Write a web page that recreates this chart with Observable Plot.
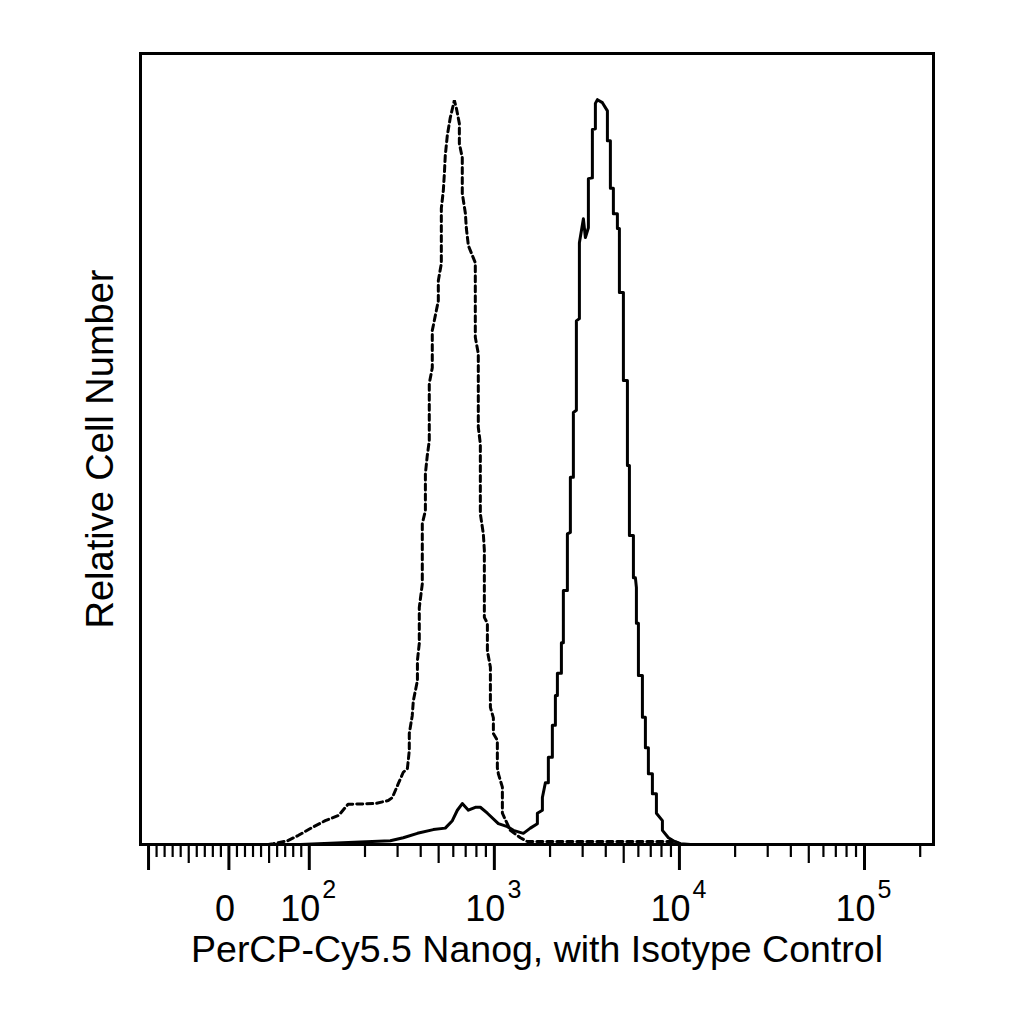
<!DOCTYPE html>
<html>
<head>
<meta charset="utf-8">
<script src="https://cdn.jsdelivr.net/npm/d3@7"></script>
<script src="https://cdn.jsdelivr.net/npm/@observablehq/plot@0.6"></script>
<style>
  html, body { margin: 0; padding: 0; background: #fff; }
  #chart svg { display: block; }
</style>
</head>
<body>
<div id="chart"></div>
<script>
// Isotype control (dashed) histogram: fluorescence intensity and relative count
const isotypeIntensity = [49, 55, 73, 86, 104, 122, 144, 162, 227, 267, 281, 303, 322, 339, 347, 347, 360, 365, 384, 384, 393, 393, 408, 408, 424, 424, 434, 445, 445, 462, 462, 498, 498, 517, 517, 530, 537, 543, 557, 578, 608, 623, 647, 647, 671, 671, 697, 706, 724, 789, 789, 819, 819, 840, 840, 872, 883, 883, 917, 917, 952, 952, 988, 988, 1038, 1038, 1051, 1105, 1105, 1220, 1382, 1508, 1773, 3741, 9515, 10130];
const isotypeCount = [0, 0.1, 0.5, 1.2, 2.3, 3.2, 3.9, 5.4, 5.5, 5.9, 6.3, 8.2, 9.7, 10.2, 12.6, 14.9, 17.3, 19.3, 22.0, 24.7, 27.0, 31.8, 35.0, 43.1, 44.8, 49.8, 52.2, 54.2, 61.9, 64.0, 69.0, 73.0, 75.7, 78.0, 85.4, 87.8, 90.1, 92.5, 95.2, 97.6, 99.9, 98.9, 96.8, 94.1, 92.2, 87.4, 84.8, 82.7, 80.4, 78.1, 68.1, 65.9, 56.0, 53.8, 44.4, 41.7, 39.5, 30.5, 29.7, 26.0, 23.8, 18.4, 17.0, 14.9, 14.0, 10.3, 9.5, 7.7, 4.2, 1.9, 0.9, 0.4, 0.4, 0.4, 0.4, 0];

// Nanog (solid) histogram
const nanogIntensity = [89, 274, 322, 384, 468, 543, 593, 631, 671, 724, 789, 840, 917, 1051, 1176, 1267, 1435, 1565, 1708, 1708, 1818, 1818, 1887, 1958, 1958, 2058, 2058, 2137, 2137, 2191, 2191, 2303, 2303, 2360, 2360, 2481, 2481, 2575, 2575, 2673, 2673, 2775, 2775, 2881, 2881, 3028, 3104, 3222, 3222, 3386, 3386, 3515, 3515, 3605, 3836, 4082, 4082, 4236, 4236, 4397, 4397, 4622, 4622, 4739, 4739, 4981, 4981, 5236, 5236, 5368, 5368, 5642, 5642, 5784, 5856, 5856, 6004, 6004, 6310, 6310, 6549, 6549, 6797, 6797, 7145, 7145, 7511, 7511, 8093, 8093, 8720, 9281, 10130, 11470];
const nanogCount = [0, 0.5, 0.9, 1.5, 2.0, 2.2, 3.2, 4.6, 5.5, 4.6, 5.0, 5.0, 4.2, 2.8, 2.4, 1.9, 1.5, 2.2, 2.8, 4.2, 4.6, 6.3, 8.3, 8.3, 11.7, 11.7, 16.0, 16.0, 20.0, 20.0, 23.0, 23.0, 27.1, 27.1, 34.1, 34.1, 41.7, 41.9, 49.3, 49.3, 58.0, 58.3, 70.3, 70.6, 80.8, 84.0, 81.5, 82.8, 89.4, 89.5, 96.0, 96.1, 99.5, 100, 99.6, 98.5, 94.5, 94.5, 88.1, 88.1, 84.7, 84.7, 82.7, 82.7, 74.1, 74.1, 62.3, 62.3, 50.9, 50.9, 41.5, 41.5, 35.8, 35.8, 34.5, 29.7, 29.7, 22.7, 22.7, 17.1, 17.1, 13.0, 13.0, 9.5, 9.5, 6.8, 6.8, 4.2, 3.2, 1.9, 0.9, 0.5, 0.1, 0];

// Axis ticks and labels
const xDomainValues = [-110, 236000];
const majorTicks = [-100, 0, 100, 1000, 10000, 100000];
const mediumTicks = [-50, 50, 500, 5000, 50000];
const minorTicks = [-90, -80, -70, -60, -40, -30, -20, -10, 10, 20, 30, 40, 60, 70, 80, 90, 200, 300, 400, 600, 700, 800, 900, 2000, 3000, 4000, 6000, 7000, 8000, 9000, 20000, 30000, 40000, 60000, 70000, 80000, 90000, 200000];
const zeroTick = [0];
const zeroLabel = ["0"];
const decadeTicks = [100, 1000, 10000, 100000];
const decadeBase = ["10", "10", "10", "10"];
const decadeExponents = ["2", "3", "4", "5"];
const xLabel = "PerCP-Cy5.5 Nanog, with Isotype Control";
const yLabel = "Relative Cell Number";
const yMax = 106.2;

// Linear-near-zero / logarithmic-above display transform (biexponential-like)
const LN10 = Math.log(10);
function biex(v) {
  return v >= 100 ? Math.log10(v) : 2 + (v - 100) / (100 * LN10);
}

const isotype = isotypeIntensity.map((v, i) => ({v, c: isotypeCount[i]}));
const nanog = nanogIntensity.map((v, i) => ({v, c: nanogCount[i]}));

const font = "'Liberation Sans', Arial, Helvetica, sans-serif";

const chart = Plot.plot({
  width: 1024,
  height: 1024,
  marginLeft: 140,
  marginRight: 91,
  marginTop: 53,
  marginBottom: 180,
  style: {fontFamily: font, background: "white", color: "black", overflow: "visible"},
  x: {type: "linear", domain: xDomainValues.map(biex), axis: null},
  y: {domain: [0, yMax], axis: null},
  marks: [
    Plot.line(isotype, {x: d => biex(d.v), y: "c", stroke: "black", strokeWidth: 3, strokeDasharray: "6,4", strokeLinejoin: "miter"}),
    Plot.line(nanog, {x: d => biex(d.v), y: "c", stroke: "black", strokeWidth: 3}),
    Plot.axisX(minorTicks.map(biex), {anchor: "bottom", tickSize: 13, strokeWidth: 2.2, fill: "none", label: null}),
    Plot.axisX(mediumTicks.map(biex), {anchor: "bottom", tickSize: 19, strokeWidth: 2.2, fill: "none", label: null}),
    Plot.axisX(majorTicks.map(biex), {anchor: "bottom", tickSize: 26, strokeWidth: 3, fill: "none", label: null}),
    Plot.frame({stroke: "black", strokeWidth: 3}),
    Plot.text(zeroTick, {x: d => biex(d), text: (d, i) => zeroLabel[i], frameAnchor: "bottom", dy: 65, dx: -4, fontSize: 36, lineAnchor: "middle", fill: "black"}),
    Plot.text(decadeTicks, {x: d => biex(d), text: (d, i) => decadeBase[i], frameAnchor: "bottom", dy: 65, dx: -9, fontSize: 36, lineAnchor: "middle", fill: "black"}),
    Plot.text(decadeTicks, {x: d => biex(d), text: (d, i) => decadeExponents[i], frameAnchor: "bottom", dy: 45, dx: 20, fontSize: 25, lineAnchor: "middle", fill: "black"}),
    Plot.text([xLabel], {frameAnchor: "bottom", dy: 105, fontSize: 37.5, textAnchor: "middle", lineAnchor: "middle", fill: "black"}),
    Plot.text([yLabel], {frameAnchor: "left", dx: -40, rotate: -90, fontSize: 38, textAnchor: "middle", lineAnchor: "middle", fill: "black"})
  ]
});
document.getElementById("chart").append(chart);
</script>
</body>
</html>
